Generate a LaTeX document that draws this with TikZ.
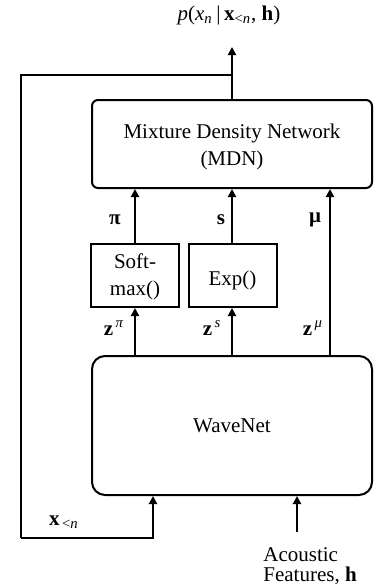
\documentclass[tikz,border=0pt]{standalone}
\usepackage{fontspec}
\setmainfont{Liberation Serif}
\usetikzlibrary{arrows.meta}
\begin{document}
\begin{tikzpicture}[x=0.5pt,y=-0.5pt,
  every node/.style={font=\fontsize{10.5}{13.5}\selectfont, inner sep=0pt},
  box/.style={draw, line width=1pt, align=center},
  arr/.style={line width=1pt, -{Triangle[length=4pt,width=4pt]}},
  ln/.style={line width=1pt}]
\useasboundingbox (0,0) rectangle (376,585);
% boxes
\node[box, rounded corners=3pt, minimum width=140pt, minimum height=44pt] (mdn) at (232,144) {};
\node[align=center] (mdntext) at (232,147) {Mixture Density Network\\(MDN)};
\node[box, minimum width=44pt, minimum height=31.5pt] (soft) at (135,275.5) {};
\node[align=center] (softtext) at (135,277) {Soft-\\max()};
\node[box, minimum width=44pt, minimum height=31.5pt] (exp) at (232.5,275.5) {};
\node (exptext) at (232.5,280) {Exp()};
\node[box, rounded corners=6.5pt, minimum width=140pt, minimum height=69.5pt] (wave) at (232,425.5) {WaveNet};
% texts
\node (title) at (229,15) {\textit{p}(\textit{x}\textsubscript{\textit{n}}\,|\,\textbf{x}\textsubscript{<\textit{n}}, \textbf{h})};
\node[anchor=base west, align=left, font=\fontsize{10.5}{10}\selectfont] (ac) at (263,581) {Acoustic\\Features, \textbf{h}};
\node (pil) at (115,220) {\textbf{π}};
\node (sl) at (221,220) {\textbf{s}};
\node (mul) at (315,220) {\textbf{μ}};
\node (zpi) at (114,328) {\textbf{z}\textsuperscript{\,\textit{π}}};
\node (zs) at (212,328) {\textbf{z}\textsuperscript{\,\textit{s}}};
\node (zmu) at (313,328) {\textbf{z}\textsuperscript{\,\textit{μ}}};
\node (xl) at (64,522) {\textbf{x}\textsubscript{\,<\textit{n}}};
% coordinates
\coordinate (top) at (232,47);
\coordinate (j) at (232,75);
\coordinate (lc) at (21,538);
\coordinate (xin) at (153,538);
\coordinate (acs) at (297,532);
\coordinate (mux) at (330,0);
% connectors
\draw[arr] (mdn.north) -- (top);
\draw[ln] (j) -| (lc);
\draw[arr] (lc) -- (xin) -- (xin |- wave.south);
\draw[arr] (acs) -- (acs |- wave.south);
\draw[arr] (wave.north -| soft) -- (soft.south);
\draw[arr] (soft.north) -- (soft.north |- mdn.south);
\draw[arr] (wave.north -| mdn) -- (exp.south -| mdn);
\draw[arr] (exp.north -| mdn) -- (mdn.south);
\draw[arr] (wave.north -| mux) -- (mdn.south -| mux);
\end{tikzpicture}
\end{document}
